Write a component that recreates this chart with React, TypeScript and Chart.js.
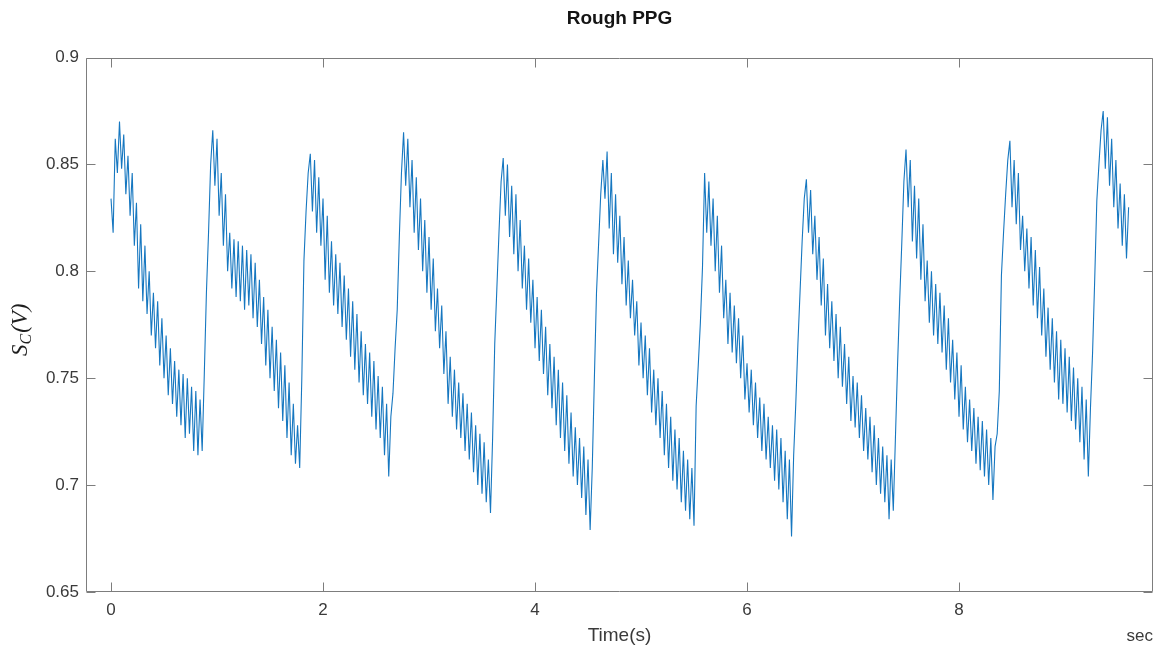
import React, { useEffect, useRef } from "react";
import { Chart, registerables } from "chart.js";

Chart.register(...registerables);

// ---- data ----
const CHART_TITLE = "Rough PPG";
const X_TITLE = "Time(s)";
const X_UNIT = "sec";
const SAMPLE_DT = 0.02; // seconds between samples
const X_MIN = -0.236;
const X_MAX = 9.83;
const Y_MIN = 0.65;
const Y_MAX = 0.9;
const X_TICKS = [0, 2, 4, 6, 8];
const X_TICK_LABELS = ["0", "2", "4", "6", "8"];
const Y_TICKS = [0.65, 0.7, 0.75, 0.8, 0.85, 0.9];
const Y_TICK_LABELS = ["0.65", "0.7", "0.75", "0.8", "0.85", "0.9"];

// S_C (V), every SAMPLE_DT seconds from t = 0 (one row = 0.2 s)
const SIGNAL = [
  0.834, 0.818, 0.862, 0.846, 0.870, 0.848, 0.864, 0.836, 0.854, 0.826,
  0.846, 0.812, 0.832, 0.792, 0.822, 0.786, 0.812, 0.780, 0.800, 0.770,
  0.790, 0.764, 0.786, 0.756, 0.778, 0.750, 0.770, 0.742, 0.764, 0.738,
  0.758, 0.732, 0.754, 0.728, 0.752, 0.722, 0.750, 0.724, 0.746, 0.716,
  0.744, 0.714, 0.740, 0.716, 0.752, 0.790, 0.818, 0.850, 0.866, 0.840,
  0.862, 0.826, 0.846, 0.812, 0.836, 0.800, 0.818, 0.792, 0.815, 0.788,
  0.814, 0.786, 0.812, 0.782, 0.810, 0.784, 0.808, 0.778, 0.804, 0.774,
  0.796, 0.766, 0.788, 0.756, 0.782, 0.750, 0.774, 0.744, 0.768, 0.736,
  0.762, 0.730, 0.756, 0.722, 0.748, 0.714, 0.738, 0.710, 0.728, 0.708,
  0.750, 0.805, 0.828, 0.846, 0.855, 0.828, 0.852, 0.818, 0.844, 0.812,
  0.834, 0.796, 0.826, 0.790, 0.814, 0.784, 0.808, 0.780, 0.804, 0.774,
  0.798, 0.768, 0.792, 0.760, 0.786, 0.754, 0.780, 0.748, 0.772, 0.742,
  0.766, 0.738, 0.762, 0.732, 0.758, 0.726, 0.751, 0.722, 0.746, 0.714,
  0.738, 0.704, 0.732, 0.743, 0.764, 0.782, 0.816, 0.846, 0.865, 0.840,
  0.862, 0.830, 0.852, 0.818, 0.844, 0.810, 0.834, 0.800, 0.824, 0.790,
  0.816, 0.782, 0.806, 0.772, 0.792, 0.764, 0.784, 0.752, 0.772, 0.738,
  0.760, 0.732, 0.754, 0.726, 0.748, 0.722, 0.743, 0.716, 0.738, 0.712,
  0.734, 0.706, 0.728, 0.700, 0.724, 0.696, 0.720, 0.692, 0.712, 0.687,
  0.722, 0.766, 0.792, 0.818, 0.842, 0.853, 0.826, 0.850, 0.816, 0.840,
  0.808, 0.836, 0.800, 0.824, 0.792, 0.812, 0.782, 0.806, 0.776, 0.796,
  0.764, 0.788, 0.758, 0.782, 0.752, 0.774, 0.742, 0.766, 0.736, 0.760,
  0.728, 0.754, 0.722, 0.748, 0.716, 0.742, 0.710, 0.734, 0.704, 0.727,
  0.700, 0.722, 0.694, 0.718, 0.686, 0.712, 0.679, 0.708, 0.750, 0.790,
  0.813, 0.836, 0.852, 0.834, 0.856, 0.820, 0.846, 0.808, 0.836, 0.804,
  0.826, 0.794, 0.816, 0.784, 0.805, 0.778, 0.796, 0.770, 0.786, 0.756,
  0.776, 0.750, 0.770, 0.742, 0.764, 0.734, 0.754, 0.728, 0.750, 0.722,
  0.744, 0.714, 0.738, 0.708, 0.732, 0.702, 0.726, 0.698, 0.722, 0.692,
  0.716, 0.688, 0.712, 0.684, 0.708, 0.681, 0.737, 0.756, 0.776, 0.802,
  0.846, 0.818, 0.842, 0.812, 0.834, 0.800, 0.826, 0.790, 0.812, 0.778,
  0.796, 0.766, 0.790, 0.762, 0.784, 0.757, 0.778, 0.750, 0.770, 0.740,
  0.757, 0.734, 0.754, 0.728, 0.748, 0.722, 0.741, 0.716, 0.738, 0.712,
  0.732, 0.708, 0.728, 0.702, 0.726, 0.698, 0.722, 0.692, 0.716, 0.684,
  0.712, 0.676, 0.714, 0.738, 0.766, 0.790, 0.814, 0.834, 0.843, 0.818,
  0.838, 0.808, 0.826, 0.796, 0.816, 0.784, 0.806, 0.770, 0.794, 0.764,
  0.786, 0.758, 0.780, 0.750, 0.774, 0.746, 0.766, 0.738, 0.760, 0.730,
  0.751, 0.727, 0.748, 0.722, 0.742, 0.716, 0.736, 0.712, 0.732, 0.706,
  0.728, 0.700, 0.722, 0.696, 0.718, 0.692, 0.714, 0.684, 0.712, 0.688,
  0.722, 0.756, 0.786, 0.813, 0.842, 0.857, 0.830, 0.852, 0.814, 0.840,
  0.806, 0.834, 0.796, 0.822, 0.786, 0.805, 0.776, 0.800, 0.770, 0.794,
  0.766, 0.790, 0.762, 0.784, 0.754, 0.778, 0.748, 0.768, 0.740, 0.762,
  0.732, 0.756, 0.726, 0.746, 0.720, 0.740, 0.716, 0.736, 0.710, 0.732,
  0.707, 0.730, 0.704, 0.726, 0.700, 0.722, 0.693, 0.718, 0.724, 0.744,
  0.798, 0.818, 0.836, 0.852, 0.861, 0.830, 0.852, 0.822, 0.846, 0.810,
  0.826, 0.800, 0.820, 0.792, 0.816, 0.784, 0.810, 0.778, 0.802, 0.770,
  0.792, 0.760, 0.783, 0.754, 0.778, 0.748, 0.772, 0.740, 0.768, 0.738,
  0.764, 0.734, 0.760, 0.730, 0.755, 0.726, 0.750, 0.720, 0.746, 0.712,
  0.740, 0.704, 0.736, 0.762, 0.796, 0.833, 0.850, 0.866, 0.875, 0.848,
  0.872, 0.840, 0.862, 0.830, 0.852, 0.820, 0.841, 0.812, 0.836, 0.806,
  0.830,
];

const LINE_COLOR = "#1677c0";
const AXIS_COLOR = "#7d7d7d";
const TEXT_COLOR = "#3a3a3a";
const SANS = '"Liberation Sans", Arial, Helvetica, sans-serif';
const SERIF = '"Liberation Serif", "Times New Roman", serif';

const decorPlugin = {
  id: "matlabDecor",
  afterDraw(chart: any) {
    const { ctx, chartArea, scales } = chart;
    const { left, right, top, bottom } = chartArea;
    const xs = scales.x;
    const ys = scales.y;
    ctx.save();
    // box
    ctx.strokeStyle = AXIS_COLOR;
    ctx.lineWidth = 1;
    const L = Math.round(left) + 0.5;
    const R = Math.round(right) - 0.5;
    const T = Math.round(top) + 0.5;
    const B = Math.round(bottom) - 0.5;
    ctx.beginPath();
    ctx.rect(L, T, R - L, B - T);
    ctx.stroke();
    // inward ticks on all four sides
    const tl = 9;
    ctx.beginPath();
    X_TICKS.forEach((v) => {
      const px = Math.round(xs.getPixelForValue(v)) + 0.5;
      ctx.moveTo(px, B);
      ctx.lineTo(px, B - tl);
      ctx.moveTo(px, T);
      ctx.lineTo(px, T + tl);
    });
    Y_TICKS.forEach((v) => {
      const py = Math.round(ys.getPixelForValue(v)) + 0.5;
      ctx.moveTo(L, py);
      ctx.lineTo(L + tl, py);
      ctx.moveTo(R, py);
      ctx.lineTo(R - tl, py);
    });
    ctx.stroke();

    // title
    ctx.fillStyle = "#141414";
    ctx.font = `bold 19px ${SANS}`;
    ctx.textAlign = "center";
    ctx.textBaseline = "alphabetic";
    ctx.fillText(CHART_TITLE, (left + right) / 2, 24);

    // unit text at lower right
    ctx.fillStyle = TEXT_COLOR;
    ctx.font = `17px ${SANS}`;
    ctx.textAlign = "right";
    ctx.fillText(X_UNIT, right, 641);

    // y-axis label S_C(V)
    const cy = (top + bottom) / 2 + 5;
    ctx.translate(27, cy);
    ctx.rotate(-Math.PI / 2);
    ctx.fillStyle = "#1e1e1e";
    ctx.textAlign = "left";
    const big = `italic 23px ${SERIF}`;
    const small = `italic 16px ${SERIF}`;
    ctx.font = big;
    const wS = ctx.measureText("S").width;
    const wP = ctx.measureText("(V)").width;
    ctx.font = small;
    const wC = ctx.measureText("C").width;
    const total = wS + wC + 1 + wP;
    let x0 = -total / 2;
    ctx.font = big;
    ctx.fillText("S", x0, 0);
    x0 += wS;
    ctx.font = small;
    ctx.fillText("C", x0, 4);
    x0 += wC + 1;
    ctx.font = big;
    ctx.fillText("(V)", x0, 0);
    ctx.restore();
  },
};

export default function App() {
  const ref = useRef<HTMLCanvasElement | null>(null);

  useEffect(() => {
    if (!ref.current) return;
    const points = SIGNAL.map((v, i) => ({ x: +(i * SAMPLE_DT).toFixed(3), y: v }));
    const chart = new Chart(ref.current, {
      type: "line",
      data: {
        datasets: [
          {
            data: points,
            borderColor: LINE_COLOR,
            borderWidth: 1.1,
            pointRadius: 0,
            tension: 0,
            fill: false,
          },
        ],
      },
      options: {
        responsive: false,
        maintainAspectRatio: false,
        animation: false,
        events: [],
        layout: { padding: { top: 57.5, right: 9, left: 0, bottom: 0 } },
        plugins: {
          legend: { display: false },
          tooltip: { enabled: false },
          title: { display: false },
        },
        scales: {
          x: {
            type: "linear",
            min: X_MIN,
            max: X_MAX,
            afterBuildTicks: (s: any) => {
              s.ticks = X_TICKS.map((v) => ({ value: v }));
            },
            afterFit: (s: any) => {
              s.height = 58;
            },
            grid: { display: false, drawTicks: false },
            border: { display: false },
            ticks: {
              color: TEXT_COLOR,
              font: { family: SANS, size: 17 },
              padding: 8,
              maxRotation: 0,
              autoSkip: false,
              callback: (v: any) => {
                const k = X_TICKS.indexOf(Number(v));
                return k >= 0 ? X_TICK_LABELS[k] : "";
              },
            },
            title: {
              display: true,
              text: X_TITLE,
              color: TEXT_COLOR,
              font: { family: SANS, size: 19 },
              padding: { top: 0, bottom: 3 },
            },
          },
          y: {
            type: "linear",
            min: Y_MIN,
            max: Y_MAX,
            afterBuildTicks: (s: any) => {
              s.ticks = Y_TICKS.map((v) => ({ value: v }));
            },
            afterFit: (s: any) => {
              s.width = 86;
            },
            grid: { display: false, drawTicks: false },
            border: { display: false },
            ticks: {
              color: TEXT_COLOR,
              font: { family: SANS, size: 17 },
              padding: 7,
              autoSkip: false,
              callback: (v: any) => {
                const k = Y_TICKS.findIndex((t) => Math.abs(t - Number(v)) < 1e-9);
                return k >= 0 ? Y_TICK_LABELS[k] : "";
              },
            },
          },
        },
      },
      plugins: [decorPlugin],
    });
    return () => chart.destroy();
  }, []);

  return (
    <div style={{ position: "fixed", left: 0, top: 0, width: 1162, height: 650, background: "#fff" }}>
      <canvas ref={ref} width={1162} height={650} style={{ display: "block" }} />
    </div>
  );
}
